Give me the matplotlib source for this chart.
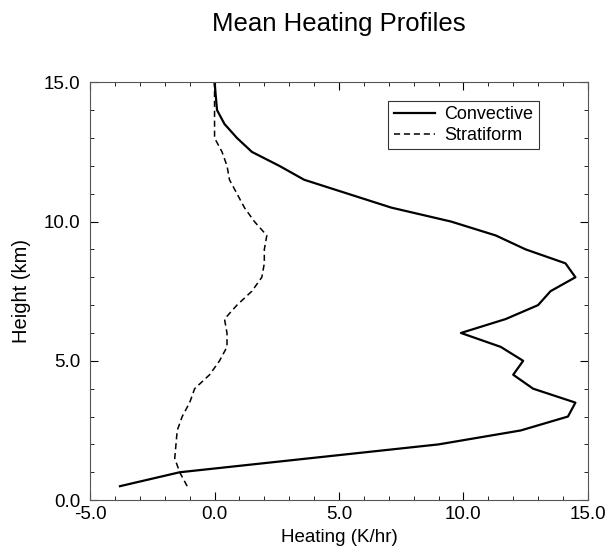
"""Mean heating profiles, convective vs stratiform"""
import matplotlib
matplotlib.use('Agg')
import matplotlib.pyplot as plt
from matplotlib.ticker import MultipleLocator, FormatStrFormatter

plt.rcParams['font.family'] = ['Liberation Sans', 'DejaVu Sans']

# heights (km) and heating rates (K/hr)
conv_height = [0.5, 1.0, 2.0, 2.5, 3.0, 3.5, 4.0, 4.5, 5.0, 5.5, 6.0, 6.5, 7.0, 7.5,
               8.0, 8.5, 9.0, 9.5, 10.0, 10.5, 11.5, 12.0, 12.5, 13.0, 13.5, 14.0, 14.5, 15.0]
conv_heating = [-3.8, -1.4, 9.0, 12.3, 14.2, 14.5, 12.8, 12.0, 12.4, 11.5, 9.9, 11.7, 13.0, 13.5,
                14.5, 14.1, 12.5, 11.3, 9.5, 7.1, 3.6, 2.6, 1.5, 0.9, 0.4, 0.1, 0.05, 0.0]

strat_height = [0.5, 1.0, 1.5, 2.0, 2.5, 3.0, 3.5, 4.0, 4.5, 5.0, 5.5, 6.0, 6.5, 7.0, 7.5,
                8.0, 8.5, 9.0, 9.5, 10.0, 10.5, 11.0, 11.5, 12.0, 12.5, 13.0, 13.5, 14.0, 14.5, 15.0]
strat_heating = [-1.1, -1.4, -1.6, -1.55, -1.5, -1.3, -1.0, -0.8, -0.2, 0.2, 0.5, 0.5, 0.4, 0.9, 1.5,
                 1.9, 2.0, 2.0, 2.1, 1.6, 1.2, 0.9, 0.6, 0.5, 0.3, 0.0, 0.0, 0.0, 0.0, 0.0]

fig = plt.figure(figsize=(6.13, 5.52), dpi=100)
ax = fig.add_axes([0.147, 0.094, 0.812, 0.757])

ax.plot(conv_heating, conv_height, color='black', lw=1.6, label='Convective')
ax.plot(strat_heating, strat_height, color='black', lw=1.1, ls=(0, (4, 2.5)), label='Stratiform')

ax.set_xlim(-5, 15)
ax.set_ylim(0, 15)
ax.xaxis.set_major_locator(MultipleLocator(5))
ax.xaxis.set_minor_locator(MultipleLocator(1))
ax.yaxis.set_major_locator(MultipleLocator(5))
ax.yaxis.set_minor_locator(MultipleLocator(1))
ax.xaxis.set_major_formatter(FormatStrFormatter('%.1f'))
ax.yaxis.set_major_formatter(FormatStrFormatter('%.1f'))
ax.tick_params(which='both', direction='in', top=True, right=True, labelsize=13.5)
ax.tick_params(which='major', length=6)
ax.tick_params(which='minor', length=3)
ax.tick_params(axis='y', pad=7)
ax.tick_params(axis='x', pad=4)
for s in ax.spines.values():
    s.set_color('#555555')

ax.set_xlabel('Heating (K/hr)', fontsize=13.5)
ax.set_ylabel('Height (km)', fontsize=14.5)
ax.xaxis.set_label_coords(0.5, -0.068)
ax.yaxis.set_label_coords(-0.118, 0.5)
fig.text(0.553, 0.957, 'Mean Heating Profiles', fontsize=18.5, ha='center', va='center')

leg = ax.legend(loc='upper right', bbox_to_anchor=(0.901, 0.955), fontsize=13,
                frameon=True, fancybox=False, handlelength=2.3, borderpad=0.3,
                labelspacing=0.2, handletextpad=0.5, borderaxespad=0)
leg.get_frame().set_edgecolor('black')
leg.get_frame().set_linewidth(0.8)

fig.savefig('out.png', dpi=100)
